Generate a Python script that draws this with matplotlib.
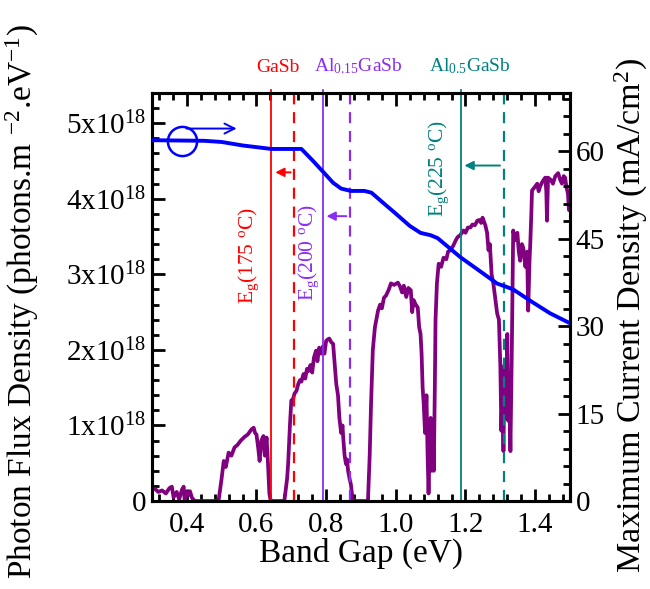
import matplotlib
matplotlib.use("Agg")
import matplotlib.pyplot as plt
from matplotlib.ticker import MultipleLocator, FixedLocator
import numpy as np

plt.rcParams['font.family'] = ['Liberation Serif', 'DejaVu Serif']
plt.rcParams['mathtext.fontset'] = 'custom'
plt.rcParams['mathtext.rm'] = 'Liberation Serif'
plt.rcParams['mathtext.it'] = 'Liberation Serif:italic'

# photon flux spectrum (eV, x1e18 photons m-2 eV-1)
spec_ev = [0.300, 0.309, 0.318, 0.329, 0.340, 0.350, 0.357, 0.362, 0.371, 0.378,
           0.386, 0.391, 0.394, 0.400, 0.405, 0.409, 0.415, 0.423, 0.491, 0.500,
           0.506, 0.512, 0.520, 0.528, 0.537, 0.545, 0.555, 0.566, 0.575, 0.586,
           0.592, 0.596, 0.600, 0.605, 0.609, 0.614, 0.620, 0.624, 0.629, 0.633,
           0.637, 0.641, 0.680, 0.688, 0.691, 0.696, 0.700, 0.705, 0.709, 0.715,
           0.720, 0.725, 0.729, 0.735, 0.740, 0.745, 0.749, 0.755, 0.760, 0.765,
           0.771, 0.775, 0.780, 0.786, 0.791, 0.795, 0.800, 0.805, 0.809, 0.815,
           0.820, 0.823, 0.829, 0.834, 0.838, 0.843, 0.847, 0.849, 0.853, 0.857,
           0.860, 0.863, 0.867, 0.871, 0.874, 0.877, 0.920, 0.925, 0.929, 0.934,
           0.940, 0.949, 0.955, 0.960, 0.966, 0.972, 0.980, 0.986, 0.995, 1.006,
           1.012, 1.018, 1.023, 1.030, 1.036, 1.043, 1.047, 1.051, 1.057, 1.063,
           1.067, 1.071, 1.074, 1.077, 1.080, 1.084, 1.088, 1.091, 1.094, 1.097,
           1.100, 1.103, 1.106, 1.109, 1.112, 1.114, 1.118, 1.123, 1.130, 1.137,
           1.145, 1.150, 1.157, 1.165, 1.172, 1.177, 1.185, 1.194, 1.200, 1.207,
           1.214, 1.220, 1.227, 1.234, 1.240, 1.245, 1.249, 1.253, 1.257, 1.262,
           1.266, 1.270, 1.275, 1.280, 1.285, 1.291, 1.296, 1.300, 1.303, 1.306,
           1.309, 1.312, 1.314, 1.318, 1.320, 1.323, 1.326, 1.329, 1.333, 1.337,
           1.343, 1.349, 1.353, 1.357, 1.362, 1.366, 1.372, 1.377, 1.380, 1.384,
           1.386, 1.389, 1.391, 1.398, 1.406, 1.410, 1.414, 1.420, 1.429, 1.432,
           1.434, 1.437, 1.445, 1.451, 1.458, 1.466, 1.472, 1.477, 1.482, 1.486,
           1.490, 1.494, 1.497, 1.500]
spec_flux = [0.16, 0.16, 0.12, 0.14, 0.10, 0.17, 0.19, 0.05, 0.12, 0.02,
             0.15, 0.19, 0.00, 0.12, 0.08, 0.13, 0.04, 0.00, 0.00, 0.30,
             0.53, 0.45, 0.64, 0.60, 0.71, 0.74, 0.80, 0.85, 0.88, 0.95,
             0.97, 0.90, 0.88, 0.70, 0.53, 0.80, 0.86, 0.60, 0.84, 0.50,
             0.10, 0.00, 0.00, 0.30, 0.50, 1.00, 1.33, 1.35, 1.42, 1.46,
             1.55, 1.60, 1.58, 1.68, 1.62, 1.75, 1.72, 1.80, 1.70, 1.90,
             1.99, 1.85, 2.03, 1.95, 2.05, 1.95, 2.12, 2.14, 2.15, 2.10,
             2.08, 1.90, 1.55, 1.40, 1.10, 0.90, 1.00, 0.84, 0.60, 0.49,
             0.55, 0.40, 0.30, 0.22, 0.10, 0.00, 0.00, 0.60, 1.30, 2.00,
             2.30, 2.52, 2.60, 2.55, 2.69, 2.72, 2.80, 2.88, 2.86, 2.89,
             2.84, 2.76, 2.85, 2.70, 2.82, 2.79, 2.50, 2.66, 2.60, 2.56,
             2.30, 2.21, 1.95, 1.50, 1.29, 0.90, 1.40, 0.66, 0.10, 0.70,
             1.10, 0.40, 0.90, 0.40, 1.50, 2.40, 2.88, 3.14, 3.10, 3.22,
             3.20, 3.30, 3.32, 3.38, 3.45, 3.49, 3.52, 3.58, 3.55, 3.62,
             3.62, 3.66, 3.65, 3.71, 3.72, 3.68, 3.75, 3.70, 3.65, 3.55,
             3.32, 3.40, 3.00, 2.88, 2.70, 2.48, 2.40, 1.80, 0.93, 1.50,
             0.66, 1.80, 1.29, 1.10, 2.21, 1.06, 1.40, 0.66, 2.00, 3.58,
             3.45, 3.55, 3.30, 3.18, 3.40, 3.35, 3.10, 3.30, 2.52, 3.20,
             3.40, 3.80, 4.11, 4.15, 4.20, 4.10, 4.16, 4.22, 4.28, 4.10,
             3.71, 4.28, 4.25, 4.20, 4.30, 4.34, 4.25, 4.20, 4.30, 4.28,
             4.15, 4.07, 3.85, 3.95]

# maximum current density (mA/cm2)
jmax_ev = [0.300, 0.450, 0.500, 0.560, 0.643, 0.729, 0.760, 0.794, 0.820, 0.843,
           0.871, 0.910, 0.930, 0.957, 1.000, 1.040, 1.071, 1.100, 1.120, 1.150,
           1.186, 1.240, 1.291, 1.315, 1.337, 1.390, 1.443, 1.500]
jmax = [61.9, 61.8, 61.6, 61.0, 60.4, 60.4, 58.5, 56.3, 54.6, 53.6,
        53.2, 53.2, 52.9, 51.5, 49.3, 47.2, 46.0, 45.6, 45.1, 43.6,
        41.8, 39.5, 37.3, 36.8, 36.3, 34.2, 32.2, 30.5]

# band gap markers: solid = room temp, dashed = elevated temp
mat_names = ['GaSb', r'Al$_{0.15}$GaSb', r'Al$_{0.5}$GaSb']
mat_colors = ['#ff0000', '#8b2cf5', '#008080']
eg_solid = [0.643, 0.790, 1.186]
eg_dashed = [0.709, 0.869, 1.310]
eg_temps = ['175', '200', '225']

fig = plt.figure(figsize=(6.5, 5.89), dpi=100)
ax = fig.add_axes([0.2338, 0.1494, 0.6431, 0.6927])
ax2 = ax.twinx()

ax.plot(spec_ev, np.array(spec_flux) * 1e18, color='#800080', lw=2.7, zorder=2)
ax2.plot(jmax_ev, jmax, color='#0000ff', lw=2.8, zorder=3)

trans = ax.get_xaxis_transform()
label_x = [0.662, 0.891, 1.214]
for i in range(3):
    ax.plot([eg_solid[i], eg_solid[i]], [0, 1.008], transform=trans, color=mat_colors[i],
            lw=1.3, clip_on=False, zorder=4)
    ax.plot([eg_dashed[i], eg_dashed[i]], [0, 1.008], transform=trans, color=mat_colors[i],
            lw=1.6, ls=(0, (5, 3.5)), clip_on=False, zorder=4)
    ax.text(label_x[i], 1.042, mat_names[i], transform=trans, color=mat_colors[i],
            fontsize=14, ha='center', va='bottom')

arrow_y = [4.35e18, 3.77e18, 4.44e18]
for i in range(3):
    ax.annotate('', xy=(eg_solid[i] + 0.003, arrow_y[i]), xytext=(eg_dashed[i] - 0.003, arrow_y[i]),
                arrowprops=dict(arrowstyle='-|>', color=mat_colors[i], lw=1.4, mutation_scale=13),
                zorder=5)

text_pos = [(0.577, 3.25e18), (0.749, 3.29e18), (1.123, 4.40e18)]
for i in range(3):
    ax.text(text_pos[i][0], text_pos[i][1], r'E$_\mathrm{g}$(' + eg_temps[i] + r' $^\mathrm{o}$C)',
            rotation=90, ha='center', va='center', color=mat_colors[i], fontsize=15.5)

# circle + arrow pointing to the right axis
ax2.plot([0.386], [61.8], 'o', ms=21, mfc='none', mec='#0000ff', mew=1.8, zorder=5)
ax2.annotate('', xy=(0.551, 63.9), xytext=(0.391, 63.9),
             arrowprops=dict(arrowstyle='->', color='#0000ff', lw=1.4, mutation_scale=18))

ax.set_xlim(0.3, 1.5)
ax.set_ylim(0, 5.4e18)
ax2.set_ylim(0, 70)

ax.xaxis.set_major_locator(FixedLocator([0.4, 0.6, 0.8, 1.0, 1.2, 1.4]))
ax.xaxis.set_minor_locator(MultipleLocator(0.04))
ax.set_xticklabels(['0.4', '0.6', '0.8', '1.0', '1.2', '1.4'])
ax.yaxis.set_major_locator(FixedLocator([0, 1e18, 2e18, 3e18, 4e18, 5e18]))
ax.yaxis.set_minor_locator(MultipleLocator(0.2e18))
ax.set_yticklabels(['0'] + [str(k) + r'x10$^{18}$' for k in range(1, 6)])
ax2.yaxis.set_major_locator(FixedLocator([0, 15, 30, 45, 60]))
ax2.yaxis.set_minor_locator(MultipleLocator(3))

ax.tick_params(axis='x', which='both', direction='in', top=True, bottom=True, labelsize=21, width=2, pad=8)
ax.tick_params(axis='y', which='both', direction='in', left=True, right=False, labelsize=21, width=2, pad=4)
ax2.tick_params(axis='y', which='both', direction='in', right=True, labelsize=21, width=2, pad=4)
for a in (ax, ax2):
    a.tick_params(which='major', length=9)
    a.tick_params(which='minor', length=5)
    for s in a.spines.values():
        s.set_linewidth(2.2)

ax.set_xlabel('Band Gap (eV)', fontsize=24)
ax.set_ylabel(r'Photon Flux Density (photons.m $^{-2}$.eV$^{-1}$)', fontsize=24)
ax2.set_ylabel(r'Maximum Current Density (mA/cm$^{2}$)', fontsize=24.5)
ax.xaxis.set_label_coords(0.5, -0.09)
ax.yaxis.set_label_coords(-0.265, 0.488)
ax2.yaxis.set_label_coords(1.103, 0.455)

fig.savefig('out.png', dpi=100)
